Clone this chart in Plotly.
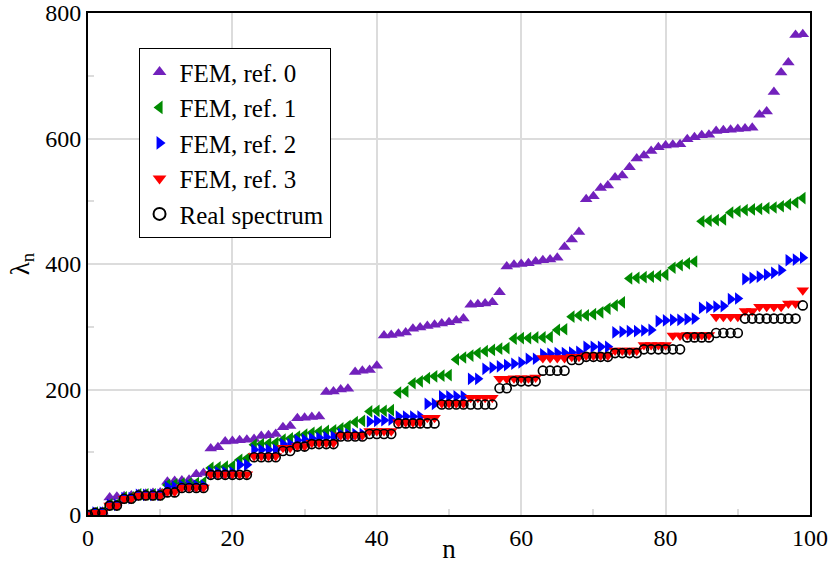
import plotly.graph_objects as go

# eigenvalue index
n = list(range(100))

# FEM, refinement 0
ref0 = [0, 4, 5, 28, 29, 30, 31, 33, 34, 35, 36,
        53, 54, 55, 56, 65, 67, 106, 108,
        117, 118, 119, 120, 121, 126, 127, 129, 140, 142,
        154, 155, 156, 157, 196, 197, 200, 201, 228, 230, 231, 238,
        286, 287, 289, 291, 297, 299, 301, 303, 305, 307, 310, 313,
        335, 336, 337, 339, 355,
        396, 399, 400, 401, 404, 406, 407, 410, 427, 439, 451,
        503, 508, 521, 525, 538, 541, 554, 568, 573, 580, 586,
        589, 590, 591, 599, 602, 605, 606,
        612, 613, 614, 615, 616, 617, 638, 643, 674, 705, 721, 765, 766]

# FEM, refinement 1
ref1 = [0, 4, 4, 17, 17, 28, 28, 33, 33, 33, 33, 48, 49, 50, 50, 51, 52,
        75, 76, 77, 78, 88, 90, 112, 113, 114, 115,
        120, 122, 125, 128, 131, 133, 134, 135, 138, 142, 148, 150,
        165, 166, 166, 167, 195, 197, 210, 213, 218, 221, 222, 223,
        248, 251, 254, 258, 261, 263, 265, 266,
        281, 282, 282, 283, 283, 284, 295, 296,
        316, 318, 318, 320, 323, 329, 334, 339,
        377, 378, 379, 380, 381, 383, 394, 398, 401, 404,
        468, 469, 470, 471,
        482, 484, 486, 487, 488, 489, 490, 492, 495, 498, 505]

# FEM, refinement 2
ref2 = [0, 4, 4, 16, 16, 27, 27, 32, 32, 32, 32, 45, 45, 47, 47, 47, 47,
        68, 68, 68, 68, 80, 80, 104, 104, 104, 104, 113, 113,
        119, 120, 122, 123, 124, 125, 129, 129, 129, 129,
        149, 150, 151, 152, 157, 157, 157, 157, 177, 177,
        189, 189, 189, 189, 217, 217, 233, 235, 237, 239, 241, 243, 249, 249,
        256, 257, 258, 258, 259, 260, 268, 268, 268, 268,
        291, 292, 293, 293, 294, 295, 309, 310, 311, 311, 312, 313,
        330, 331, 332, 333, 344, 345,
        376, 378, 380, 383, 386, 390, 406, 407, 410]

# FEM, refinement 3
ref3 = [0, 3.5, 3.5, 15, 15, 26, 26, 31, 31, 31, 31, 37, 37, 44, 44, 44, 44,
        65, 65, 65, 65, 65, 65, 94, 94, 94, 94, 107, 107, 110, 110,
        115, 115, 115, 115, 127, 127, 127, 127, 134, 134, 134, 134,
        148, 148, 148, 148, 155, 155, 178, 178, 178, 178, 187, 187, 187, 187,
        217, 217, 218, 218, 218, 219, 250, 250, 250, 250, 252, 252,
        254, 254, 254, 254, 262, 262, 262, 262, 271, 271, 271, 271, 286, 286,
        287, 287, 287, 287, 316, 316, 316, 316, 325, 325,
        332, 332, 332, 332, 337, 337, 358]

# exact eigenvalues
real = [0, 3.5, 3.5, 15, 15, 26, 26, 31, 31, 31, 31, 36, 36, 43, 43, 43, 43,
        64, 64, 64, 64, 64, 64, 92, 92, 92, 92, 102, 102, 109, 109,
        113, 113, 113, 113, 125, 125, 125, 125, 129, 129, 129, 129,
        146, 146, 146, 146, 146, 146, 176, 176, 176, 176, 176, 176, 176, 176,
        202, 202, 213, 213, 213, 213, 230, 230, 230, 230, 247, 247,
        252, 252, 252, 252, 258, 258, 258, 258, 264, 264, 264, 264, 264, 264,
        283, 283, 283, 283, 290, 290, 290, 290,
        313, 313, 313, 313, 313, 313, 313, 313, 334]

font = "Liberation Serif"
grid = "#dcdcdc"

fig = go.Figure()
fig.add_trace(go.Scatter(x=n, y=ref0, mode="markers", name="FEM, ref. 0",
                         marker=dict(symbol="triangle-up", size=11, color="#7221bc")))
fig.add_trace(go.Scatter(x=n, y=ref1, mode="markers", name="FEM, ref. 1",
                         marker=dict(symbol="triangle-left", size=11, color="#008b00")))
fig.add_trace(go.Scatter(x=n, y=ref2, mode="markers", name="FEM, ref. 2",
                         marker=dict(symbol="triangle-right", size=11, color="#0000ff")))
fig.add_trace(go.Scatter(x=n, y=ref3, mode="markers", name="FEM, ref. 3",
                         marker=dict(symbol="triangle-down", size=11, color="#ff0000")))
fig.add_trace(go.Scatter(x=n, y=real, mode="markers", name="Real spectrum",
                         marker=dict(symbol="circle-open", size=9, color="black",
                                     line=dict(width=1.6, color="black"))))

axis = dict(showline=True, linecolor="black", linewidth=2, mirror=True,
            showgrid=True, gridcolor=grid, gridwidth=1.5, zeroline=False,
            ticks="inside", ticklen=9, tickcolor=grid, tickwidth=1.5,
            automargin=False, ticklabeloverflow="allow",
            tickfont=dict(family=font, size=24, color="black"))

fig.update_layout(
    width=830, height=564,
    margin=dict(l=88, r=20, t=13, b=49),
    plot_bgcolor="white", paper_bgcolor="white",
    font=dict(family=font, color="black"),
    xaxis=dict(axis, range=[0, 100], tick0=0, dtick=20,
               minor=dict(dtick=10, ticks="inside", ticklen=6, tickcolor=grid, showgrid=False),
               title=dict(text="n", font=dict(family=font, size=27), standoff=0)),
    yaxis=dict(axis, range=[0, 800], tick0=0, dtick=200,
               minor=dict(dtick=100, ticks="inside", ticklen=6, tickcolor=grid, showgrid=False),
               title=dict(text="λ<sub>n</sub>", font=dict(family=font, size=27), standoff=8)),
    legend=dict(x=0.07, y=0.93, xanchor="left", yanchor="top",
                bgcolor="white", bordercolor="black", borderwidth=1,
                font=dict(family=font, size=25, color="black"),
                itemsizing="constant", tracegroupgap=0),
    showlegend=True,
)

fig.write_html("out.html", config={"displayModeBar": False},
               post_script="document.body.style.margin='0';")
